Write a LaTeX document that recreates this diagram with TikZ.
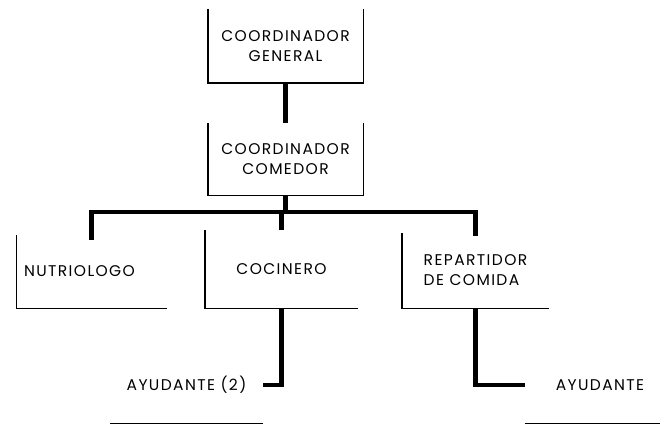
\documentclass[tikz,border=0pt]{standalone}
\usepackage{fontspec}
\setmainfont{Poppins}[LetterSpace=9]
\usetikzlibrary{positioning}

\begin{document}
\begin{tikzpicture}[x=1pt,y=-1pt,font=\fontsize{15.5}{20}\selectfont,
   post/.style={minimum width=150pt,minimum height=74pt,inner sep=0pt,align=center},
   edge/.style={line width=1.4pt},
   conn/.style={line width=4.2pt}]
  \useasboundingbox (0,0) rectangle (660,425);
  \node[post,minimum width=155pt] (gen) at (285.5,46) {COORDINADOR\\GENERAL};
  \node[post,minimum width=155pt,minimum height=72pt,below=40pt of gen] (com) {COORDINADOR\\COMEDOR};
  \node[post,text width=135pt,inner xsep=7pt,align=left,minimum height=73pt] (nut) at (91.5,271.5) {NUTRIOLOGO};
  \node[post,minimum width=153pt,minimum height=78pt] (coc) at (281.5,269) {COCINERO};
  \node[post,minimum width=147pt,minimum height=75pt,align=left] (rep) at (475.5,270.5) {REPARTIDOR\\DE COMIDA};
  \node[post,minimum width=153pt,minimum height=76pt] (ay1) at (186.5,385) {AYUDANTE (2)};
  \node[post,minimum width=150pt,minimum height=76pt] (ay2) at (600,385) {AYUDANTE};
  % open box borders
  \foreach \n in {gen,com} {\draw[edge] (\n.north west) |- (\n.south east) -- (\n.north east);}
  \foreach \n in {nut,coc,rep} {\draw[edge] (\n.north west) |- (\n.south east);}
  \foreach \n in {ay1,ay2} {\draw[edge] (\n.south west) -- (\n.south east);}
  % connectors
  \coordinate (bus) at (285.5,212);
  \draw[conn] (gen.south) -- (com.north);
  \draw[conn] (com.south) -- (bus);
  \draw[conn] ([yshift=-5pt]nut.north) |- (bus) -| ([yshift=-3pt]rep.north);
  \draw[conn] (coc.north) -- (coc.north |- bus);
  \draw[conn] (coc.south) |- (ay1.east);
  \draw[conn] (rep.south) |- (ay2.west);
\end{tikzpicture}
\end{document}
